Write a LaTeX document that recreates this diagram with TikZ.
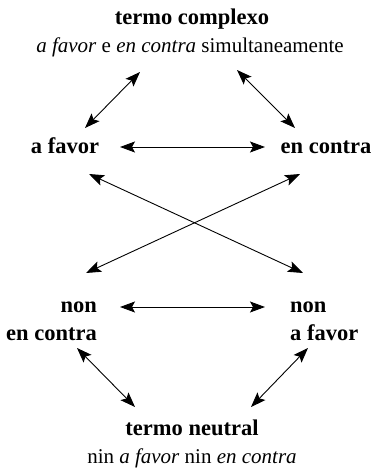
\documentclass[tikz,border=0pt]{standalone}
\usepackage{fontspec}
\setmainfont{Liberation Serif}
\usetikzlibrary{arrows.meta,calc}

\tikzset{
  termo/.style={inner sep=0pt, font=\fontsize{22.5}{27}\selectfont\bfseries},
  glosa/.style={inner sep=0pt, font=\fontsize{21}{25}\selectfont},
  dobre/.style={{Stealth[length=15pt,width=11pt,inset=3pt]}-{Stealth[length=15pt,width=11pt,inset=3pt]}, line width=0.9pt}
}

\begin{document}
\begin{tikzpicture}[x=1pt,y=-1pt]
  \useasboundingbox (0,0) rectangle (380,468);

  % Os termos
  \node[termo,anchor=base] (tc)  at (192,25)  {termo complexo};
  \node[glosa,anchor=base] (tcs) at (190,53)  {\textit{a favor} e \textit{en contra} simultaneamente};
  \node[termo,anchor=base] (af)  at (65,153)  {a favor};
  \node[termo,anchor=base] (ec)  at (326,153) {en contra};
  \node[termo,anchor=base east] (nec1) at (97,312)  {non};
  \node[termo,anchor=base east] (nec2) at (97,340)  {en contra};
  \node[termo,anchor=base west] (naf1) at (290,312) {non};
  \node[termo,anchor=base west] (naf2) at (290,340) {a favor};
  \node[termo,anchor=base] (tn)  at (192,435) {termo neutral};
  \node[glosa,anchor=base] (tns) at (192,463) {nin \textit{a favor} nin \textit{en contra}};

  % As relacions
  \draw[dobre] ($(tcs.base)+(-50,19)$) -- ($(af.base)+(20,-25)$);
  \draw[dobre] ($(tcs.base)+(47,17)$) -- ($(ec.base)+(-31,-25)$);
  \draw[dobre] ($(af.base)+(55,-6)$) -- ($(ec.base)+(-61,-6)$);
  \draw[dobre] ($(af.base)+(24,21)$) -- ($(naf1.base west)+(13,-39)$);
  \draw[dobre] ($(ec.base)+(-26,21)$) -- ($(nec1.base east)+(-11,-39)$);
  \draw[dobre] ($(nec1.base east)+(23,-5)$) -- ($(naf1.base west)+(-25,-5)$);
  \draw[dobre] ($(nec2.base east)+(-20,8)$) -- ($(tn.base)+(-57,-28)$);
  \draw[dobre] ($(naf2.base west)+(18,8)$) -- ($(tn.base)+(59,-28)$);
\end{tikzpicture}
\end{document}
